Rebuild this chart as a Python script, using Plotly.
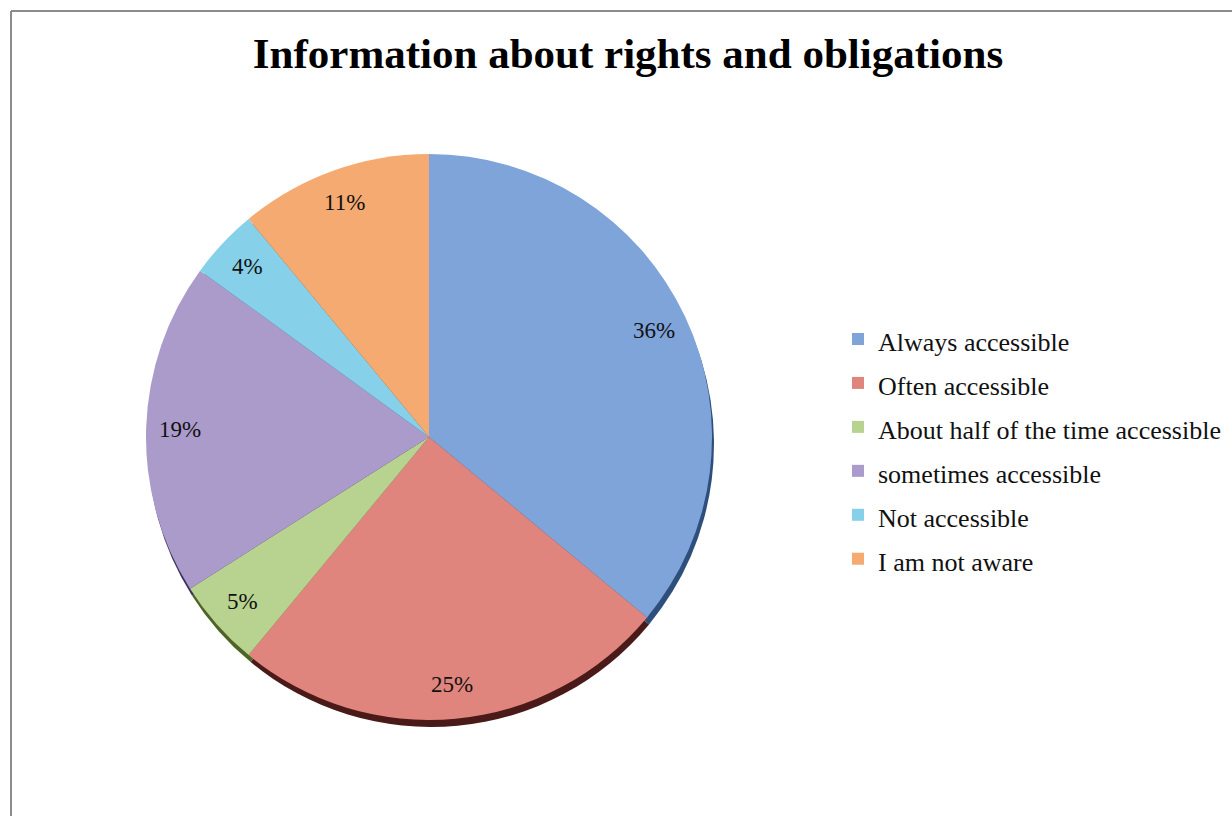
import math
import plotly.graph_objects as go

# Survey answers and their shares (%)
categories = [
    "Always accessible",
    "Often accessible",
    "About half of the time accessible",
    "sometimes accessible",
    "Not accessible",
    "I am not aware",
]
shares = [36, 25, 5, 19, 4, 11]

slice_colors = ["#7fa4da", "#e0857e", "#b8d38f", "#ab9bca", "#86d0ea", "#f4aa70"]
shadow_colors = ["#2e4f7c", "#4a1a18", "#4d6426", "#3f2f5c", "#1f5e74", "#8a4a1c"]

W, H = 1232, 816
cx, cy, r = 429, 437, 283  # pie centre / radius in pixels


def dom(cx_px, cy_px, rad):
    return dict(
        x=[(cx_px - rad) / W, (cx_px + rad) / W],
        y=[(H - cy_px - rad) / H, (H - cy_px + rad) / H],
    )


fig = go.Figure()

# soft drop shadow under the pie
fig.add_trace(go.Pie(
    labels=categories, values=shares, sort=False, direction="clockwise",
    marker=dict(colors=shadow_colors, line=dict(width=0)),
    textinfo="none", hoverinfo="skip", showlegend=False,
    domain=dom(cx + 2, cy + 7, r),
))

# legend text is drawn a bit smaller than the legend font so that
# the rows get more vertical room
legend_names = [f'<span style="font-size:26px">{c}</span>' for c in categories]

fig.add_trace(go.Pie(
    labels=legend_names, values=shares, sort=False, direction="clockwise",
    marker=dict(colors=slice_colors, line=dict(width=0)),
    textinfo="none", showlegend=True,
    domain=dom(cx, cy, r),
))

# percentage labels placed inside each slice, near the rim
total = sum(shares)
cum = 0
for v in shares:
    mid = (cum + v / 2) / total * 2 * math.pi
    cum += v
    lx = cx + 0.88 * r * math.sin(mid)
    ly = cy - 0.88 * r * math.cos(mid)
    fig.add_annotation(
        x=lx / W, y=1 - ly / H, xref="paper", yref="paper",
        xanchor="center", yanchor="middle",
        text=f"{v}%", showarrow=False,
        font=dict(family="Liberation Serif", size=23, color="#111111"),
    )

fig.update_layout(
    width=W, height=H,
    margin=dict(l=0, r=0, t=0, b=0),
    paper_bgcolor="white",
    title=dict(
        text="<b>Information about rights and obligations</b>",
        x=628 / W, xanchor="center", y=1 - 53 / H, yanchor="middle",
        font=dict(family="Liberation Serif", size=43, color="#000000"),
    ),
    legend=dict(
        x=838 / W, xanchor="left", y=1 - 449 / H, yanchor="middle",
        font=dict(family="Liberation Serif", size=31.5, color="#111111"),
        bgcolor="rgba(0,0,0,0)",
    ),
    shapes=[
        dict(type="line", xref="paper", yref="paper",
             x0=11 / W, x1=1, y0=1 - 11 / H, y1=1 - 11 / H,
             line=dict(color="#8c8c8c", width=2)),
        dict(type="line", xref="paper", yref="paper",
             x0=11 / W, x1=11 / W, y0=0, y1=1 - 11 / H,
             line=dict(color="#8c8c8c", width=2)),
    ],
)

fig.write_html("out.html")
